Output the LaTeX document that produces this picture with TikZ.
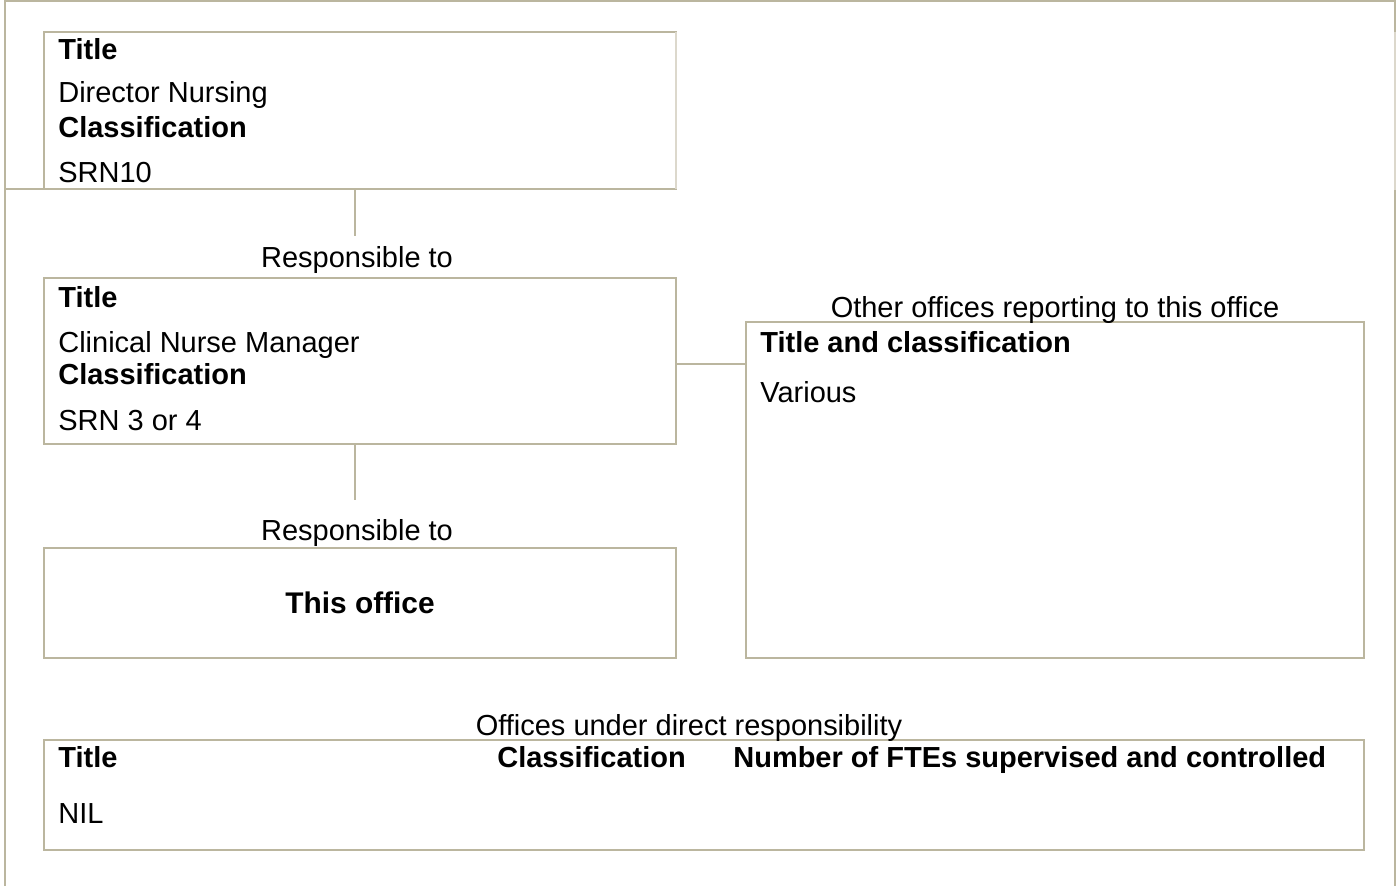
\documentclass[tikz,border=0pt]{standalone}
\usepackage{fontspec}
\setmainfont{Liberation Sans}
\definecolor{rule}{RGB}{187,182,159}
\definecolor{rulelight}{RGB}{220,216,204}
\newcommand{\orgfont}{\fontsize{16.5}{19}\selectfont}
\begin{document}
\begin{tikzpicture}[x=0.02cm, y=-0.02cm, font=\orgfont, box/.style={rectangle, draw=rule, line width=1.1pt, anchor=north west, inner sep=0pt, outer sep=0pt, minimum width=12.64cm}, link/.style={draw=rule, line width=1.1pt}, txt/.style={anchor=base west, inner sep=0pt}, head/.style={txt, font=\orgfont\bfseries}, caption/.style={anchor=base, inner sep=0pt}]
  \useasboundingbox (0,0) rectangle (1399,886);
  \draw[link] (5,886) -- (5,1) -- (1395,1) -- (1395,32);
  \draw[link] (1395,190) -- (1395,886);
  \draw[link, draw=rulelight] (1395,32) -- (1395,190);

  \node[box, minimum height=3.14cm] (director) at (44,32) {};
  \node[box, minimum height=3.32cm] (manager) at (44,278) {};
  \node[box, minimum height=2.2cm] (office) at (44,548) {};
  \node[box, minimum width=12.36cm, minimum height=6.72cm] (others) at (746,322) {};
  \node[box, minimum width=26.4cm, minimum height=2.2cm] (ftes) at (44,740) {};
  \draw[link] (5,189) -- (director.south west);
  \draw[link, draw=rulelight] (director.north east) -- (director.south east);

  \node[head] (dirtitle) at (58,59) {Title};
  \node[txt] (dirname) at (58,102) {Director Nursing};
  \node[head] (dirclass) at (58,137) {Classification};
  \node[txt] (dirgrade) at (58,182) {SRN10};

  \node[caption] (resp1) at (357,267) {Responsible to};
  \coordinate (up1) at (355,236);
  \draw[link] (up1 |- director.south) -- (up1);

  \node[head] (mantitle) at (58,307) {Title};
  \node[txt] (manname) at (58,352) {Clinical Nurse Manager};
  \node[head] (manclass) at (58,384) {Classification};
  \node[txt] (mangrade) at (58,430) {SRN 3 or 4};

  \node[caption] (resp2) at (357,540) {Responsible to};
  \coordinate (up2) at (355,500);
  \draw[link] (up2 |- manager.south) -- (up2);

  \node[caption, font=\fontsize{17}{20}\selectfont\bfseries] (this) at (360,613) {This office};

  \node[caption] (otherlabel) at (1055,317) {Other offices reporting to this office};
  \node[head] (othertitle) at (760,352) {Title and classification};
  \node[txt] (othervalue) at (760,402) {Various};
  \coordinate (side) at (711,364);
  \draw[link] (side -| manager.east) -- (side -| others.west);

  \node[caption] (ftelabel) at (689,735) {Offices under direct responsibility};
  \node[head] (ftetitle) at (58,767) {Title};
  \node[head] (fteclass) at (497,767) {Classification};
  \node[head] (ftecount) at (733,767) {Number of FTEs supervised and controlled};
  \node[txt] (ftenil) at (58,823) {NIL};
\end{tikzpicture}
\end{document}
